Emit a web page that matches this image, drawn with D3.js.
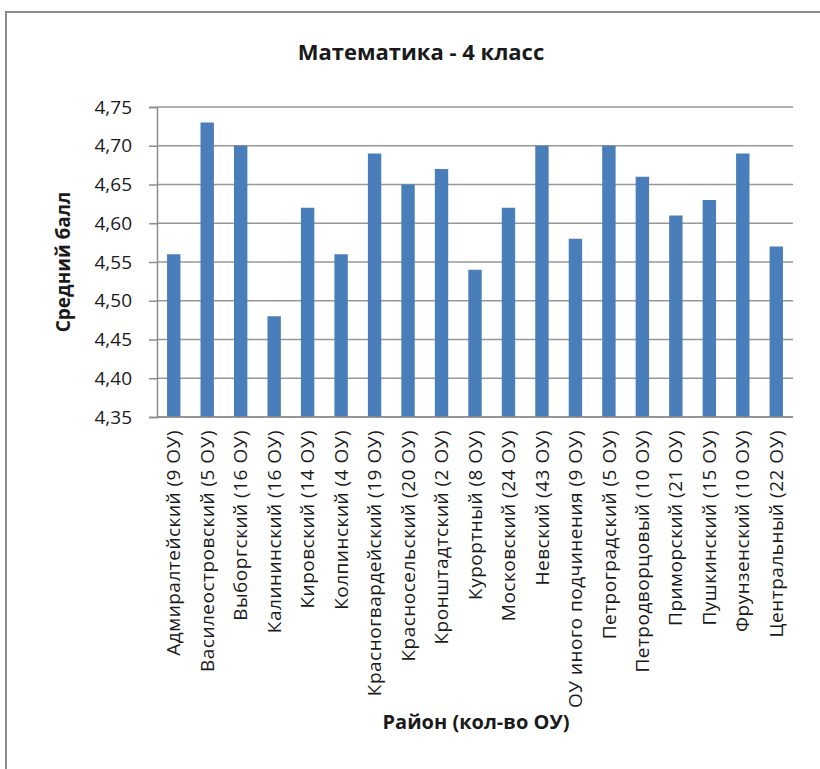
<html>
<script src='https://d3js.org/d3.v7.min.js'></script>
<style>
body {margin: 0; background: #fff;}
text {font-family: 'Open Sans', sans-serif; fill: #1a1a1a;}
</style>
<body>
<svg width=820 height=769></svg>
<script>
const districts = ['Адмиралтейский (9 ОУ)', 'Василеостровский (5 ОУ)', 'Выборгский (16 ОУ)',
    'Калининский (16 ОУ)', 'Кировский (14 ОУ)', 'Колпинский (4 ОУ)', 'Красногвардейский (19 ОУ)',
    'Красносельский (20 ОУ)', 'Кронштадтский (2 ОУ)', 'Курортный (8 ОУ)', 'Московский (24 ОУ)',
    'Невский (43 ОУ)', 'ОУ иного подчинения (9 ОУ)', 'Петроградский (5 ОУ)', 'Петродворцовый (10 ОУ)',
    'Приморский (21 ОУ)', 'Пушкинский (15 ОУ)', 'Фрунзенский (10 ОУ)', 'Центральный (22 ОУ)'];
const scores = [4.56, 4.73, 4.70, 4.48, 4.62, 4.56, 4.69, 4.65, 4.67, 4.54, 4.62,
    4.70, 4.58, 4.70, 4.66, 4.61, 4.63, 4.69, 4.57];
const yTicks = [4.35, 4.40, 4.45, 4.50, 4.55, 4.60, 4.65, 4.70, 4.75];

const svg = d3.select('svg');
const plotL = 157, plotR = 793, plotT = 107, plotB = 417;

const ru = d3.formatLocale({decimal: ',', thousands: ' ', grouping: [3], currency: ['', '']});
const xs = d3.scaleBand().domain(districts).range([plotL, plotR]).paddingInner(0.6).paddingOuter(0.3);
const ys = d3.scaleLinear().domain([4.35, 4.75]).range([plotB, plotT]);

// chart frame
svg.append('path')
    .attr('d', 'M6,769 V12 H820')
    .attr('fill', 'none').attr('stroke', '#8c8c8c').attr('stroke-width', 2);

// gridlines
svg.append('g').selectAll('line')
    .data(yTicks)
    .enter()
    .append('line')
        .attr('x1', plotL).attr('x2', plotR)
        .attr('y1', d => ys(d)).attr('y2', d => ys(d))
        .attr('stroke', '#979797').attr('stroke-width', 1.5);

svg.append('g').selectAll('rect')
    .data(scores)
    .enter()
    .append('rect')
        .attr('x', (d, i) => xs(districts[i]))
        .attr('y', d => ys(d))
        .attr('width', xs.bandwidth())
        .attr('height', d => plotB - ys(d))
        .attr('fill', '#4a7ebb');

const yAxis = svg.append('g')
    .attr('transform', 'translate(' + plotL + ',0)')
    .call(d3.axisLeft(ys).tickValues(yTicks).tickFormat(ru.format('.2f')).tickSize(8).tickPadding(17));
yAxis.select('.domain').attr('stroke', '#8c8c8c').attr('stroke-width', 1.5);
yAxis.selectAll('.tick line').attr('stroke', '#8c8c8c').attr('stroke-width', 1.5);
yAxis.selectAll('.tick text').style('font-size', '19px').style('font-family', "'Open Sans', sans-serif").attr('fill', '#1a1a1a');

svg.append('line')
    .attr('x1', plotL).attr('x2', plotR).attr('y1', plotB).attr('y2', plotB)
    .attr('stroke', '#8c8c8c').attr('stroke-width', 1.5);

// category labels
svg.append('g').selectAll('text')
    .data(districts)
    .enter()
    .append('text')
        .attr('transform', d => 'translate(' + (xs(d) + xs.bandwidth() / 2) + ',' + (plotB + 13) + ') rotate(-90)')
        .attr('dy', '0.35em')
        .style('text-anchor', 'end')
        .style('font-size', '19px')
        .style('letter-spacing', '0.5px')
        .text(d => d);

svg.append('text')
    .attr('x', 421).attr('y', 60)
    .style('text-anchor', 'middle').style('font-size', '22px').style('font-weight', 'bold')
    .text('Математика - 4 класс');

svg.append('text')
    .attr('transform', 'translate(70,262) rotate(-90)')
    .style('text-anchor', 'middle').style('font-size', '19px').style('font-weight', 'bold')
    .text('Средний балл');

svg.append('text')
    .attr('x', 476).attr('y', 729)
    .style('text-anchor', 'middle').style('font-size', '20px').style('font-weight', 'bold')
    .text('Район (кол-во ОУ)');
</script>
</body>
</html>
